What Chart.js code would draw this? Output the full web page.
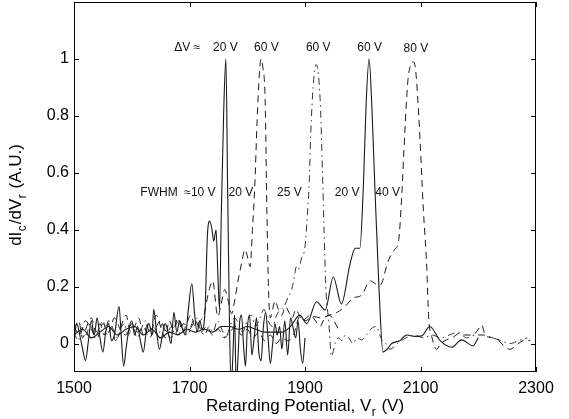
<!DOCTYPE html>
<html><head><meta charset="utf-8">
<script src="https://cdn.jsdelivr.net/npm/chart.js@4/dist/chart.umd.min.js"></script>
<style>html,body{margin:0;padding:0;background:#fff}canvas{display:block}</style>
</head><body>
<canvas id="c" width="569" height="419"></canvas>
<script>
// ---- data (retarding potential V, dIc/dVr A.U.) ----
const xTicks = [1500, 1700, 1900, 2100, 2300];
const yTicks = [0, 0.2, 0.4, 0.6, 0.8, 1];

// solid, ΔV≈20 V, FWHM≈10 V
const peak20a = [[1500,0.02],[1505,0.07],[1510,0.03],[1515,-0.02],[1520,-0.06],[1525,0.01],[1530,0.08],[1535,0.03],[1540,0.09],[1545,0.02],
[1550,-0.03],[1555,0.04],[1560,0.07],[1565,0.01],[1570,0.03],[1578,0.13],[1582,0.02],[1586,-0.08],[1590,-0.02],[1595,0.05],
[1600,0.08],[1605,0.03],[1610,0.06],[1615,0.01],[1620,-0.03],[1625,0.04],[1630,0.07],[1635,0.03],[1638,0.12],[1643,0.04],
[1648,-0.02],[1653,0.03],[1658,0.07],[1663,0.04],[1668,0.00],[1673,0.11],[1678,0.04],[1683,0.08],[1688,0.05],[1693,0.03],
[1698,0.12],[1704,0.21],[1709,0.10],[1713,0.04],[1718,0.08],[1722,0.05],[1727,0.12],[1731,0.38],[1735,0.43],[1739,0.40],
[1742,0.36],[1746,0.40],[1749,0.25],[1752,0.12],[1755,0.45],[1759,0.80],[1763,1.0],[1766,0.55],[1769,0.10],[1772,-0.15],
[1775,-0.05],[1778,0.10],[1781,-0.15],[1784,-0.05],[1787,0.08],[1790,0.10],[1794,-0.02],[1797,-0.08],[1800,0.05],[1804,0.10],
[1808,-0.04],[1812,0.02],[1816,0.09],[1820,-0.03],[1824,-0.06],[1828,0.06],[1832,0.11],[1836,0.02],[1840,-0.07],[1844,0.00],
[1848,0.07],[1852,0.03],[1856,0.06],[1860,-0.02],[1865,0.08],[1870,-0.04],[1875,0.09],[1880,0.05],[1884,0.02],[1888,0.08],
[1892,-0.02],[1896,-0.07],[1900,0.02]];

// dashed, ΔV≈60 V, FWHM≈20 V
const peak60a = [[1500,0.05],[1508,0.08],[1515,0.02],[1522,0.06],[1530,0.09],[1538,0.04],[1545,0.07],[1552,0.03],[1560,0.08],[1568,0.05],
[1575,0.02],[1583,0.07],[1590,0.10],[1598,0.04],[1605,0.06],[1612,0.09],[1620,0.03],[1628,0.07],[1635,0.05],[1642,0.10],
[1650,0.06],[1658,0.02],[1665,0.08],[1672,0.05],[1680,0.09],[1688,0.04],[1695,0.07],[1702,0.10],[1710,0.06],[1718,0.08],
[1725,0.10],[1732,0.17],[1740,0.22],[1749,0.095],[1755,0.14],[1761,0.19],[1767,0.15],[1773,0.105],[1779,0.16],[1784,0.22],
[1790,0.28],[1796,0.33],[1801,0.30],[1805,0.27],[1809,0.40],[1813,0.55],[1817,0.78],[1821,0.95],[1824,1.0],[1827,0.97],
[1831,0.855],[1834,0.47],[1837,0.18],[1840,0.09],[1844,0.12],[1848,0.15],[1854,0.12],[1860,0.10],[1866,0.13],[1872,0.11],
[1878,0.09],[1884,0.12],[1890,0.10],[1896,0.08],[1902,0.09],[1910,0.10],[1918,0.08],[1926,0.06],[1934,0.09],[1942,0.10],
[1950,0.08],[1958,0.05]];

// dash-dot, ΔV≈60 V, FWHM≈25 V
const peak60b = [[1500,0.04],[1507,0.01],[1514,0.06],[1521,0.03],[1528,0.07],[1536,0.02],[1543,0.05],[1550,0.08],[1558,0.03],[1565,0.06],
[1572,0.01],[1580,0.05],[1587,0.07],[1594,0.03],[1602,0.06],[1609,0.02],[1616,0.05],[1624,0.08],[1631,0.04],[1638,0.06],
[1646,0.03],[1653,0.07],[1660,0.04],[1668,0.02],[1675,0.06],[1682,0.08],[1690,0.05],[1697,0.03],[1704,0.07],[1712,0.09],
[1719,0.05],[1726,0.03],[1734,0.06],[1741,0.04],[1748,0.08],[1756,0.05],[1763,0.02],[1770,0.06],[1778,0.09],[1785,0.07],
[1792,0.04],[1800,0.08],[1807,0.10],[1814,0.06],[1822,0.09],[1829,0.12],[1836,0.08],[1844,0.06],[1851,0.10],[1858,0.12],
[1864,0.13],[1870,0.16],[1877,0.19],[1882,0.24],[1885,0.27],[1888,0.26],[1894,0.30],[1900,0.34],[1904,0.45],[1907,0.55],
[1910,0.74],[1914,0.90],[1919,0.98],[1923,0.95],[1927,0.82],[1930,0.62],[1933,0.40],[1936,0.20],[1941,0.08],[1946,-0.045],
[1952,0.00],[1958,0.02],[1964,0.01],[1970,0.03],[1976,0.02],[1983,0.00],[1990,0.02],[1998,0.013],[2006,0.03],[2016,0.054],
[2023,0.06],[2033,0.013],[2040,0.00],[2047,-0.02],[2060,0.00],[2075,0.02],[2090,0.03],[2105,0.02],[2120,0.03],[2135,0.02],
[2150,0.03],[2165,0.04],[2180,0.02],[2195,0.03],[2210,0.03],[2225,0.02],[2240,0.01],[2255,0.00],[2270,0.01],[2285,0.02]];

// solid, ΔV≈60 V, FWHM≈20 V
const peak60c = [[1500,0.03],[1515,0.05],[1530,0.02],[1545,0.04],[1560,0.06],[1575,0.03],[1590,0.05],[1605,0.06],[1620,0.03],[1635,0.05],
[1650,0.02],[1665,0.04],[1680,0.03],[1695,0.05],[1710,0.04],[1725,0.05],[1740,0.04],[1755,0.06],[1770,0.06],[1785,0.05],
[1800,0.06],[1815,0.05],[1830,0.04],[1845,0.04],[1860,0.04],[1875,0.06],[1891,0.10],[1903,0.07],[1920,0.147],[1935,0.118],
[1949,0.234],[1963,0.139],[1978,0.28],[1987,0.335],[1995,0.335],[2001,0.55],[2006,0.85],[2011,1.0],[2016,0.82],[2021,0.55],
[2028,0.20],[2035,-0.03],[2042,-0.02],[2050,0.00],[2064,0.01],[2076,0.03],[2090,0.025],[2102,0.027],[2116,0.06],[2134,0.01],
[2154,-0.013],[2171,0.013],[2191,-0.008],[2200,0.02]];

// dashed, ΔV≈80 V, FWHM≈40 V
const peak80 = [[1500,0.06],[1510,0.03],[1520,0.08],[1530,0.05],[1540,0.02],[1550,0.07],[1560,0.04],[1570,0.09],[1580,0.05],[1590,0.03],
[1600,0.07],[1610,0.04],[1620,0.06],[1630,0.02],[1640,0.05],[1650,0.08],[1660,0.04],[1670,0.06],[1680,0.03],[1690,0.07],
[1700,0.05],[1710,0.08],[1720,0.04],[1730,0.06],[1740,0.03],[1750,0.05],[1760,0.02],[1770,0.04],[1780,0.06],[1790,0.03],
[1800,0.05],[1810,0.02],[1820,0.04],[1830,0.01],[1840,0.03],[1850,0.00],[1860,0.02],[1870,0.01],[1880,0.03],[1891,0.095],
[1900,0.08],[1914,0.095],[1928,0.09],[1943,0.10],[1956,0.11],[1969,0.13],[1984,0.16],[1998,0.17],[2013,0.22],[2022,0.21],
[2030,0.205],[2044,0.29],[2055,0.33],[2062,0.36],[2067,0.50],[2073,0.75],[2078,0.92],[2083,0.98],[2087,0.99],[2091,0.97],
[2097,0.80],[2105,0.47],[2111,0.26],[2114,0.095],[2120,0.02],[2128,-0.02],[2135,0.00],[2142,0.01],[2155,0.02],[2168,0.036],
[2176,0.03],[2191,0.03],[2200,0.05],[2206,0.065],[2212,0.03],[2225,0.02],[2235,0.01],[2246,-0.01],[2255,-0.02],[2264,-0.01],
[2273,0.005],[2281,0.013],[2290,0.01]];

// annotation texts at data positions
const deltaVLabels = [["ΔV ≈",1696,1.04],["20 V",1762,1.04],["60 V",1833,1.04],["60 V",1923,1.04],["60 V",2012,1.04],["80 V",2092,1.037]];
const fwhmLabels = [["FWHM  ≈10 V",1680,0.53],["20 V",1789,0.53],["25 V",1873,0.53],["20 V",1973,0.53],["40 V",2043,0.53]];

const FONT = "'Liberation Sans', Arial, Helvetica, sans-serif";
const toXY = arr => arr.map(p => ({x: p[0], y: p[1]}));
const base = {showLine: true, pointRadius: 0, borderColor: '#1a1a1a', cubicInterpolationMode: 'monotone', fill: false};

function drawRich(ctx, parts, size) {
  let total = 0;
  const widths = parts.map(p => {
    ctx.font = (p.sub ? size * 0.7 : size) + "px " + FONT;
    const w = ctx.measureText(p.t).width + (p.sub ? 1.5 : 0); total += w; return w;
  });
  let x = -total / 2;
  parts.forEach((p, i) => {
    ctx.font = (p.sub ? size * 0.7 : size) + "px " + FONT;
    ctx.fillText(p.t, x + (p.sub ? 0.5 : 0), p.sub ? size * 0.38 : 0);
    x += widths[i];
  });
}

const framePlugin = {
  id: 'frame',
  afterDraw(chart) {
    const {ctx, chartArea: a, scales: {x, y}} = chart;
    ctx.save();
    ctx.strokeStyle = '#000'; ctx.lineWidth = 1;
    ctx.strokeRect(a.left + 0.5, a.top + 0.5, a.right - a.left - 1, a.bottom - a.top - 1);
    ctx.beginPath();
    xTicks.forEach(v => {
      const px = Math.round(x.getPixelForValue(v)) + 0.5;
      ctx.moveTo(px, a.bottom); ctx.lineTo(px, a.bottom - 5);
      ctx.moveTo(px, a.top); ctx.lineTo(px, a.top + 5);
    });
    yTicks.forEach(v => {
      const py = Math.round(y.getPixelForValue(v)) + 0.5;
      ctx.moveTo(a.left, py); ctx.lineTo(a.left + 5, py);
      ctx.moveTo(a.right, py); ctx.lineTo(a.right - 5, py);
    });
    ctx.stroke();
    // annotations
    ctx.fillStyle = '#111';
    ctx.font = "12px " + FONT;
    ctx.textAlign = 'center'; ctx.textBaseline = 'middle';
    deltaVLabels.concat(fwhmLabels).forEach(([t, vx, vy]) => {
      ctx.fillText(t, x.getPixelForValue(vx), y.getPixelForValue(vy));
    });
    // axis titles
    ctx.fillStyle = '#000';
    ctx.textAlign = 'left'; ctx.textBaseline = 'middle';
    ctx.save();
    ctx.translate((a.left + a.right) / 2, 406);
    drawRich(ctx, [{t: 'Retarding Potential, V'}, {t: 'r', sub: true}, {t: ' (V)'}], 17);
    ctx.restore();
    ctx.save();
    ctx.translate(16, (a.top + a.bottom) / 2 + 8);
    ctx.rotate(-Math.PI / 2);
    drawRich(ctx, [{t: 'dI'}, {t: 'c', sub: true}, {t: '/dV'}, {t: 'r', sub: true}, {t: ' (A.U.)'}], 17);
    ctx.restore();
    ctx.restore();
  }
};

new Chart(document.getElementById('c'), {
  type: 'scatter',
  data: {
    datasets: [
      Object.assign({}, base, {data: toXY(peak20a), borderWidth: 1.1}),
      Object.assign({}, base, {data: toXY(peak60a), borderWidth: 1, borderDash: [7, 5]}),
      Object.assign({}, base, {data: toXY(peak60b), borderWidth: 1, borderDash: [7, 4, 1.5, 4], borderColor: '#333'}),
      Object.assign({}, base, {data: toXY(peak60c), borderWidth: 1.1}),
      Object.assign({}, base, {data: toXY(peak80), borderWidth: 1, borderDash: [7, 5]})
    ]
  },
  options: {
    responsive: false, animation: false, devicePixelRatio: 1,
    layout: {padding: {top: 2, right: 33, left: 0, bottom: 0}},
    plugins: {legend: {display: false}, tooltip: {enabled: false}},
    scales: {
      x: {
        type: 'linear', min: 1500, max: 2300,
        grid: {display: false, drawTicks: false}, border: {display: false},
        afterBuildTicks: s => { s.ticks = xTicks.map(v => ({value: v})); },
        afterFit: s => { s.height = 47; s.paddingLeft = 0; s.paddingRight = 0; },
        ticks: {padding: 7, color: '#000', font: {family: FONT, size: 16}, maxRotation: 0, autoSkip: false,
          callback: v => String(v)}
      },
      y: {
        type: 'linear', min: -0.1, max: 1.2,
        grid: {display: false, drawTicks: false}, border: {display: false},
        afterBuildTicks: s => { s.ticks = yTicks.map(v => ({value: v})); },
        afterFit: s => { s.width = 74; s.paddingTop = 0; s.paddingBottom = 0; },
        ticks: {padding: 5, color: '#000', font: {family: FONT, size: 16}, autoSkip: false,
          callback: v => String(Math.round(v * 10) / 10)}
      }
    }
  },
  plugins: [framePlugin]
});
</script>
</body></html>
